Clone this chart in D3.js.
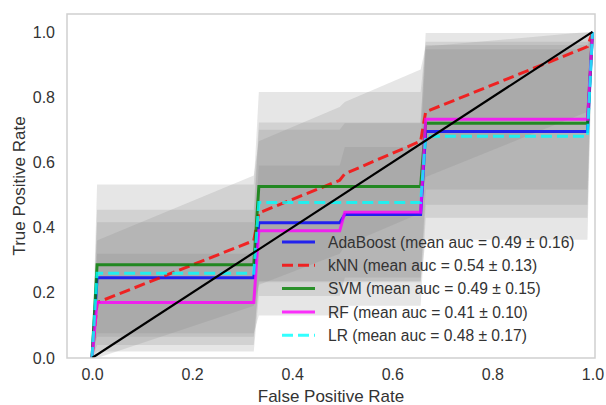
<!DOCTYPE html>
<html>
<head>
<meta charset="utf-8">
<script src="https://cdn.jsdelivr.net/npm/d3@7"></script>
<style>
  body { margin: 0; background: #fff; }
  text { font-family: "Liberation Sans", Arial, sans-serif; fill: #333; }
</style>
</head>
<body>
<svg id="chart" width="606" height="405"></svg>
<script>
// ----- Data -----
const fprGrid = [0, 0.0101, 0.3232, 0.3333, 0.4949, 0.5051, 0.6566, 0.6667, 0.9899, 1.0];

const names = ["AdaBoost", "kNN", "SVM", "RF", "LR"];
const aucMean = [0.49, 0.54, 0.49, 0.41, 0.48];
const aucStd = [0.16, 0.13, 0.15, 0.10, 0.17];

const adaMean = [0, 0.246, 0.246, 0.415, 0.415, 0.44, 0.44, 0.695, 0.695, 1];
const knnMean = [0, 0.17, 0.36, 0.445, 0.545, 0.565, 0.665, 0.755, 0.955, 1];
const svmMean = [0, 0.286, 0.286, 0.526, 0.526, 0.526, 0.526, 0.72, 0.72, 1];
const rfMean  = [0, 0.17, 0.17, 0.39, 0.39, 0.447, 0.447, 0.732, 0.732, 1];
const lrMean  = [0, 0.26, 0.26, 0.477, 0.477, 0.477, 0.477, 0.68, 0.68, 1];

const adaStd = [0, 0.17, 0.17, 0.285, 0.285, 0.28, 0.28, 0.265, 0.265, 0];
const knnStd = [0, 0.19, 0.2, 0.22, 0.225, 0.22, 0.22, 0.2, 0.2, 0];
const svmStd = [0, 0.246, 0.246, 0.29, 0.29, 0.29, 0.29, 0.25, 0.25, 0];
const rfStd  = [0, 0.15, 0.15, 0.2, 0.2, 0.2, 0.2, 0.215, 0.215, 0];
const lrStd  = [0, 0.195, 0.195, 0.245, 0.245, 0.245, 0.245, 0.317, 0.317, 0];

const xTicks = [0, 0.2, 0.4, 0.6, 0.8, 1.0];
const yTicks = [0, 0.2, 0.4, 0.6, 0.8, 1.0];

const series = [
  { name: names[0], mean: adaMean, std: adaStd, color: "#0000ff", dash: null },
  { name: names[1], mean: knnMean, std: knnStd, color: "#ff0000", dash: "11,5" },
  { name: names[2], mean: svmMean, std: svmStd, color: "#008000", dash: null },
  { name: names[3], mean: rfMean,  std: rfStd,  color: "#ff00ff", dash: null },
  { name: names[4], mean: lrMean,  std: lrStd,  color: "#00ffff", dash: "11,5" }
];

// ----- Layout -----
const plot = { left: 67, top: 14, right: 595, bottom: 358 };

const svg = d3.select("#chart");

const x = d3.scaleLinear().domain([-0.05, 1.005]).range([plot.left, plot.right]);
const y = d3.scaleLinear().domain([0, 1.055]).range([plot.bottom, plot.top]);

svg.append("defs").append("clipPath").attr("id", "clip")
  .append("rect")
  .attr("x", plot.left).attr("y", plot.top)
  .attr("width", plot.right - plot.left).attr("height", plot.bottom - plot.top);

const g = svg.append("g").attr("clip-path", "url(#clip)");

const line = d3.line().x(d => x(d.f)).y(d => y(d.t));
const area = d3.area()
  .x(d => x(d.f))
  .y0(d => y(Math.max(d.t - d.s, 0)))
  .y1(d => y(Math.min(d.t + d.s, 1)));

const points = s => fprGrid.map((f, i) => ({ f, t: s.mean[i], s: s.std[i] }));

// ----- Std bands -----
series.forEach(s => {
  g.append("path")
    .datum(points(s))
    .attr("fill", "#808080")
    .attr("fill-opacity", 0.2)
    .attr("d", area);
});

// ----- Mean curves -----
series.forEach(s => {
  g.append("path")
    .datum(points(s))
    .attr("fill", "none")
    .attr("stroke", s.color)
    .attr("stroke-opacity", 0.8)
    .attr("stroke-width", 3)
    .attr("stroke-dasharray", s.dash)
    .attr("d", line);
});

// chance diagonal
g.append("path")
  .datum([{ f: 0, t: 0 }, { f: 1, t: 1 }])
  .attr("fill", "none")
  .attr("stroke", "#000")
  .attr("stroke-width", 2.2)
  .attr("d", line);

// ----- Frame -----
svg.append("rect")
  .attr("x", plot.left).attr("y", plot.top)
  .attr("width", plot.right - plot.left).attr("height", plot.bottom - plot.top)
  .attr("fill", "none")
  .attr("stroke", "#cfcfcf")
  .attr("stroke-width", 1.5);

// ----- Axes -----
const xAxis = svg.append("g")
  .attr("transform", `translate(0,${plot.bottom})`)
  .call(d3.axisBottom(x).tickValues(xTicks).tickFormat(d3.format(".1f")).tickSize(0).tickPadding(11));
const yAxis = svg.append("g")
  .attr("transform", `translate(${plot.left},0)`)
  .call(d3.axisLeft(y).tickValues(yTicks).tickFormat(d3.format(".1f")).tickSize(0).tickPadding(12));

[xAxis, yAxis].forEach(a => {
  a.select(".domain").remove();
  a.selectAll("text")
    .style("font-family", '"Liberation Sans", Arial, sans-serif')
    .style("font-size", "16px")
    .attr("fill", "#333");
});

// Axis labels
svg.append("text")
  .attr("text-anchor", "middle")
  .attr("x", (plot.left + plot.right) / 2)
  .attr("y", 402)
  .style("font-size", "17px")
  .text("False Positive Rate");

svg.append("text")
  .attr("text-anchor", "middle")
  .attr("transform", `translate(25,${(plot.top + plot.bottom) / 2}) rotate(-90)`)
  .style("font-size", "17px")
  .text("True Positive Rate");

// ----- Legend -----
const legend = svg.append("g");
series.forEach((s, i) => {
  const cy = 242 + i * 23.3;
  legend.append("line")
    .attr("x1", 282).attr("x2", 315)
    .attr("y1", cy).attr("y2", cy)
    .attr("stroke", s.color)
    .attr("stroke-opacity", 0.8)
    .attr("stroke-width", 3)
    .attr("stroke-dasharray", s.dash);
  legend.append("text")
    .attr("x", 328)
    .attr("y", cy + 5.6)
    .style("font-size", "15.6px")
    .text(`${s.name} (mean auc = ${aucMean[i].toFixed(2)} \u00b1 ${aucStd[i].toFixed(2)})`);
});
</script>
</body>
</html>
